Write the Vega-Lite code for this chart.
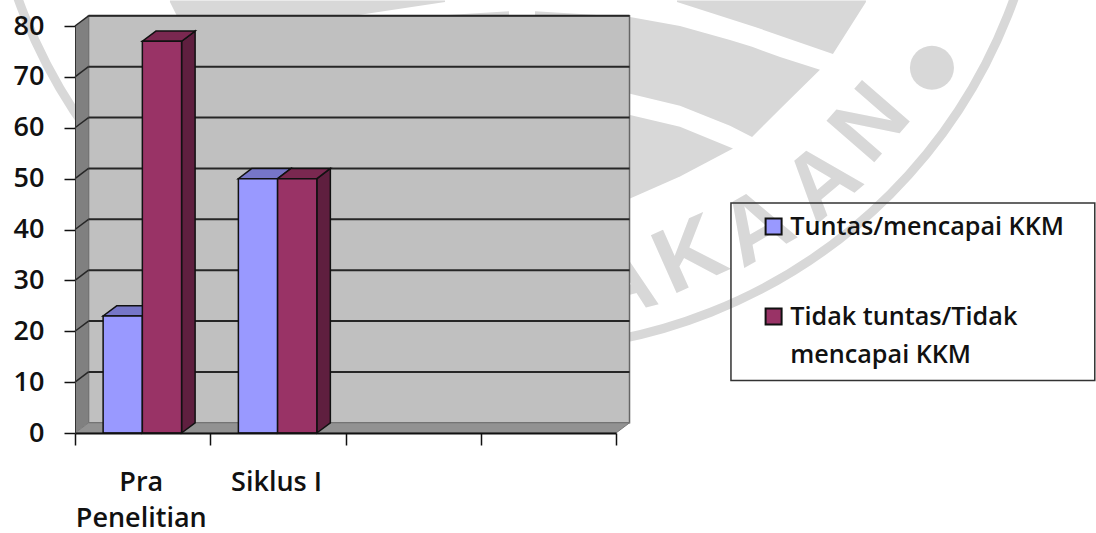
{
  "$schema": "https://vega.github.io/schema/vega-lite/v6.json",
  "width": 541,
  "height": 407,
  "padding": {"left": 75, "top": 26, "right": 480, "bottom": 100},
  "autosize": {"type": "none"},
  "background": "white",
  "config": {
    "view": {"stroke": null},
    "text": {"font": "Open Sans"},
    "axis": {"labelFont": "Open Sans"},
    "legend": {"labelFont": "Open Sans"},
    "style": {"guide-label": {"lineHeight": 38}}
  },
  "datasets": {
    "batang": [
      {"kategori": "Pra Penelitian", "urut": 0, "seri": "Tuntas/mencapai KKM", "urut_seri": 0, "nilai": 23},
      {"kategori": "Pra Penelitian", "urut": 0, "seri": "Tidak tuntas/Tidak mencapai KKM", "urut_seri": 1, "nilai": 77},
      {"kategori": "Siklus I", "urut": 1, "seri": "Tuntas/mencapai KKM", "urut_seri": 0, "nilai": 50},
      {"kategori": "Siklus I", "urut": 1, "seri": "Tidak tuntas/Tidak mencapai KKM", "urut_seri": 1, "nilai": 50}
    ],
    "kategori": [
      {"nama": "Pra\nPenelitian", "tengah": 0.49},
      {"nama": "Siklus I", "tengah": 1.49}
    ],
    "kisi": [
      {"nilai": 10}, {"nilai": 20}, {"nilai": 30}, {"nilai": 40},
      {"nilai": 50}, {"nilai": 60}, {"nilai": 70}, {"nilai": 80}
    ],
    "cincin": [{"u": 3.261, "v": 120.4}],
    "titik": [{"u": 6.336, "v": 71.8}],
    "huruf": [
      {"teks": "A", "u": 4.044, "v": 29.2, "sudut": -14},
      {"teks": "K", "u": 4.547, "v": 34.7, "sudut": -24},
      {"teks": "A", "u": 5.043, "v": 40.2, "sudut": -30},
      {"teks": "A", "u": 5.53, "v": 49.2, "sudut": -40},
      {"teks": "N", "u": 5.885, "v": 60.8, "sudut": -49}
    ],
    "logo": [
      {"bagian": "a", "u": 0.702, "bawah": 84.7, "atas": 85},
      {"bagian": "a", "u": 0.776, "bawah": 80.8, "atas": 85},
      {"bagian": "a", "u": 1.752, "bawah": 80.8, "atas": 85},
      {"bagian": "a", "u": 2.736, "bawah": 84.7, "atas": 85},
      {"bagian": "b", "u": 2.514, "bawah": 80, "atas": 81.76},
      {"bagian": "b", "u": 3.209, "bawah": 80, "atas": 82.9},
      {"bagian": "c", "u": 3.401, "bawah": 80, "atas": 82.9},
      {"bagian": "c", "u": 4.104, "bawah": 80, "atas": 81.76},
      {"bagian": "d", "u": 4.451, "bawah": 84.7, "atas": 85},
      {"bagian": "d", "u": 5.028, "bawah": 79.8, "atas": 85},
      {"bagian": "d", "u": 5.604, "bawah": 74.5, "atas": 85},
      {"bagian": "d", "u": 5.848, "bawah": 84.7, "atas": 85},
      {"bagian": "e", "u": 4.104, "bawah": 66.7, "atas": 81.76},
      {"bagian": "e", "u": 4.473, "bawah": 64.3, "atas": 80},
      {"bagian": "e", "u": 4.843, "bawah": 60.4, "atas": 77.25},
      {"bagian": "e", "u": 5.006, "bawah": 58.2, "atas": 75.9},
      {"bagian": "e", "u": 5.213, "bawah": 63.7, "atas": 73.9},
      {"bagian": "e", "u": 5.508, "bawah": 71.4, "atas": 71.4},
      {"bagian": "f", "u": 4.104, "bawah": 46.1, "atas": 62.5},
      {"bagian": "f", "u": 4.473, "bawah": 50.4, "atas": 60.2},
      {"bagian": "f", "u": 4.865, "bawah": 55.9, "atas": 55.9}
    ],
    "dinding_kiri": [
      {"u": 0, "bawah": 0, "atas": 80},
      {"u": 0.1, "bawah": 2, "atas": 82}
    ],
    "lantai": [
      {"v": 0, "kiri": 0, "kanan": 4},
      {"v": 2, "kiri": 0.1, "kanan": 4.1}
    ]
  },
  "layer": [
    {
      "data": {"name": "logo"},
      "mark": {"type": "area", "fill": "#d8d8d8"},
      "encoding": {
        "x": {
          "field": "u",
          "type": "quantitative",
          "title": null,
          "scale": {"domain": [0, 4]},
          "axis": {
            "values": [0, 1, 2, 3, 4],
            "labels": false,
            "grid": false,
            "tickSize": 12,
            "tickColor": "#111111",
            "tickWidth": 1.5,
            "domainColor": "#111111",
            "domainWidth": 2,
            "zindex": 1
          }
        },
        "y": {
          "field": "bawah",
          "type": "quantitative",
          "title": null,
          "scale": {"domain": [0, 80]},
          "axis": {
            "values": [0, 10, 20, 30, 40, 50, 60, 70, 80],
            "grid": false,
            "tickSize": 11,
            "tickColor": "#111111",
            "tickWidth": 1.5,
            "domainColor": "#333333",
            "domainWidth": 1,
            "labelFontSize": 27,
            "labelFontWeight": 600,
            "labelColor": "#111111",
            "labelPadding": 20,
            "zindex": 1
          }
        },
        "y2": {"field": "atas"},
        "detail": {"field": "bagian"}
      }
    },
    {
      "data": {"name": "cincin"},
      "mark": {"type": "point", "filled": false, "stroke": "#d8d8d8", "strokeWidth": 9, "size": 1119000, "shape": "circle", "opacity": 1},
      "encoding": {
        "x": {"field": "u", "type": "quantitative", "scale": {"domain": [0, 4]}, "title": null},
        "y": {"field": "v", "type": "quantitative", "scale": {"domain": [0, 80]}, "title": null}
      }
    },
    {
      "data": {"name": "titik"},
      "mark": {"type": "point", "filled": true, "fill": "#d8d8d8", "size": 1936, "shape": "circle", "opacity": 1},
      "encoding": {
        "x": {"field": "u", "type": "quantitative", "scale": {"domain": [0, 4]}, "title": null},
        "y": {"field": "v", "type": "quantitative", "scale": {"domain": [0, 80]}, "title": null}
      }
    },
    {
      "data": {"name": "huruf"},
      "mark": {"type": "text", "fontSize": 92, "fontWeight": "bold", "font": "Liberation Sans", "fill": "#d8d8d8", "baseline": "middle", "align": "center"},
      "encoding": {
        "x": {"field": "u", "type": "quantitative", "scale": {"domain": [0, 4]}, "title": null},
        "y": {"field": "v", "type": "quantitative", "scale": {"domain": [0, 80]}, "title": null},
        "text": {"field": "teks"},
        "angle": {"field": "sudut", "type": "quantitative", "scale": null}
      }
    },
    {
      "data": {"values": [{}]},
      "mark": {"type": "rect", "fill": "#c0c0c0", "stroke": "#666666", "strokeWidth": 1.5},
      "encoding": {
        "x": {"datum": 0.1, "type": "quantitative", "scale": {"domain": [0, 4]}, "title": null},
        "x2": {"datum": 4.1},
        "y": {"datum": 2, "type": "quantitative", "scale": {"domain": [0, 80]}, "title": null},
        "y2": {"datum": 82}
      }
    },
    {
      "data": {"name": "dinding_kiri"},
      "mark": {"type": "area", "fill": "#808080"},
      "encoding": {
        "x": {"field": "u", "type": "quantitative", "scale": {"domain": [0, 4]}, "title": null},
        "y": {"field": "bawah", "type": "quantitative", "scale": {"domain": [0, 80]}, "title": null},
        "y2": {"field": "atas"}
      }
    },
    {
      "data": {"name": "lantai"},
      "mark": {"type": "area", "orient": "horizontal", "fill": "#929292", "stroke": "#777777"},
      "encoding": {
        "y": {"field": "v", "type": "quantitative", "scale": {"domain": [0, 80]}, "title": null},
        "x": {"field": "kiri", "type": "quantitative", "scale": {"domain": [0, 4]}, "title": null},
        "x2": {"field": "kanan"}
      }
    },
    {
      "data": {"name": "kisi"},
      "transform": [{"calculate": "datum.nilai + 2", "as": "belakang"}],
      "layer": [
        {
          "mark": {"type": "rule", "stroke": "#262626", "strokeWidth": 2},
          "encoding": {
            "x": {"datum": 0.1, "type": "quantitative", "scale": {"domain": [0, 4]}, "title": null},
            "x2": {"datum": 4.1},
            "y": {"field": "belakang", "type": "quantitative", "scale": {"domain": [0, 80]}, "title": null}
          }
        },
        {
          "mark": {"type": "rule", "stroke": "#262626", "strokeWidth": 1.5},
          "encoding": {
            "x": {"datum": 0, "type": "quantitative", "scale": {"domain": [0, 4]}, "title": null},
            "x2": {"datum": 0.1},
            "y": {"field": "nilai", "type": "quantitative", "scale": {"domain": [0, 80]}, "title": null},
            "y2": {"field": "belakang"}
          }
        }
      ]
    },
    {
      "data": {"name": "batang"},
      "transform": [
        {"calculate": "datum.urut + 0.208 + datum.urut_seri * 0.29", "as": "kiri"},
        {"calculate": "datum.kiri + 0.29", "as": "kanan"},
        {"calculate": "[0, 1]", "as": "t"},
        {"flatten": ["t"]},
        {"calculate": "datum.kanan + datum.t * 0.1", "as": "sisi_x"},
        {"calculate": "datum.t * 2", "as": "sisi_bawah"},
        {"calculate": "datum.nilai + datum.t * 2", "as": "sisi_atas"},
        {"calculate": "datum.kiri + datum.t * 0.1", "as": "atap_kiri"}
      ],
      "layer": [
        {
          "mark": {"type": "area", "stroke": "#111111", "strokeWidth": 1.5},
          "encoding": {
            "x": {"field": "sisi_x", "type": "quantitative", "scale": {"domain": [0, 4]}, "title": null},
            "y": {"field": "sisi_bawah", "type": "quantitative", "scale": {"domain": [0, 80]}, "title": null},
            "y2": {"field": "sisi_atas"},
            "detail": [{"field": "kategori"}, {"field": "seri"}],
            "color": {"condition": {"test": "datum.urut_seri == 0", "value": "#5c5c99"}, "value": "#5f1f3f"}
          }
        },
        {
          "mark": {"type": "area", "orient": "horizontal", "stroke": "#111111", "strokeWidth": 1.5},
          "encoding": {
            "y": {"field": "sisi_atas", "type": "quantitative", "scale": {"domain": [0, 80]}, "title": null},
            "x": {"field": "atap_kiri", "type": "quantitative", "scale": {"domain": [0, 4]}, "title": null},
            "x2": {"field": "sisi_x"},
            "detail": [{"field": "kategori"}, {"field": "seri"}],
            "color": {"condition": {"test": "datum.urut_seri == 0", "value": "#7676c8"}, "value": "#7a2850"}
          }
        }
      ]
    },
    {
      "data": {"name": "batang"},
      "transform": [
        {"calculate": "datum.urut + 0.208 + datum.urut_seri * 0.29", "as": "kiri"},
        {"calculate": "datum.kiri + 0.29", "as": "kanan"}
      ],
      "mark": {"type": "rect", "stroke": "#111111", "strokeWidth": 1.5, "opacity": 1},
      "encoding": {
        "x": {"field": "kiri", "type": "quantitative", "scale": {"domain": [0, 4]}, "title": null},
        "x2": {"field": "kanan"},
        "y": {"field": "nilai", "type": "quantitative", "scale": {"domain": [0, 80]}, "title": null},
        "y2": {"datum": 0},
        "color": {
          "field": "seri",
          "type": "nominal",
          "scale": {
            "domain": ["Tuntas/mencapai KKM", "Tidak tuntas/Tidak mencapai KKM"],
            "range": ["#9999ff", "#993366"]
          },
          "legend": {
            "orient": "none",
            "legendX": 686,
            "legendY": 188,
            "title": null,
            "padding": 0,
            "symbolType": "square",
            "symbolSize": 256,
            "symbolStrokeColor": "#111111",
            "symbolStrokeWidth": 2,
            "symbolOpacity": 1,
            "labelFontSize": 25.2,
            "labelFontWeight": 600,
            "labelColor": "#111111",
            "labelLimit": 400,
            "labelOffset": 4,
            "rowPadding": 64,
            "labelExpr": "datum.label == 'Tidak tuntas/Tidak mencapai KKM' ? ['Tidak tuntas/Tidak', 'mencapai KKM'] : datum.label"
          }
        }
      }
    },
    {
      "data": {"values": [{}]},
      "mark": {"type": "rect", "filled": false, "stroke": "#333333", "strokeWidth": 1.5},
      "encoding": {
        "x": {"datum": 4.85, "type": "quantitative", "scale": {"domain": [0, 4]}, "title": null},
        "x2": {"datum": 7.54},
        "y": {"datum": 10.3, "type": "quantitative", "scale": {"domain": [0, 80]}, "title": null},
        "y2": {"datum": 45.2}
      }
    },
    {
      "data": {"name": "kategori"},
      "mark": {"type": "text", "fontSize": 27, "fontWeight": 600, "fill": "#111111", "baseline": "top", "align": "center", "lineBreak": "\n", "lineHeight": 36, "dy": 37},
      "encoding": {
        "x": {"field": "tengah", "type": "quantitative", "scale": {"domain": [0, 4]}, "title": null},
        "y": {"datum": 0, "type": "quantitative", "scale": {"domain": [0, 80]}, "title": null},
        "text": {"field": "nama"}
      }
    }
  ]
}
